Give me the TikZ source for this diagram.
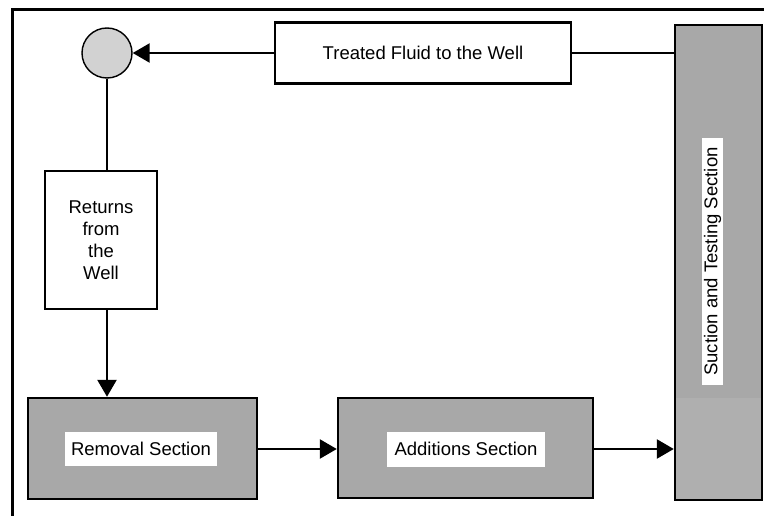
\documentclass[tikz,border=0pt]{standalone}
\usepackage{fontspec}
\setmainfont{Liberation Sans}
\usetikzlibrary{arrows.meta}
\definecolor{secgray}{HTML}{A8A8A8}
\definecolor{seclight}{HTML}{AFAFAF}
\definecolor{circgray}{HTML}{D2D2D2}
\tikzset{
  box/.style={draw=black, line width=2.4pt, fill=white, inner sep=0pt, align=center,
    font=\fontsize{18.5}{22}\selectfont},
  secbox/.style={draw=black, line width=2.4pt, fill=secgray, inner sep=0pt},
  lab/.style={fill=white, inner sep=0pt, font=\fontsize{18.5}{22}\selectfont},
  conn/.style={line width=2.4pt},
  arr/.style={conn, -{Triangle[length=17pt,width=19pt]}},
}
\begin{document}
\begin{tikzpicture}[x=1pt,y=-1pt]
\useasboundingbox (0,0) rectangle (764,516);
\draw[line width=3pt] (12,10) rectangle (775,530);
\node[draw=black, line width=1.4pt, fill=circgray, circle, minimum size=50pt, inner sep=0pt] (circ) at (107,53) {};
\node[box, minimum width=296pt, minimum height=61pt] (treated) at (423,53) {Treated Fluid to the Well};
\node[secbox, minimum width=87pt, minimum height=475pt,
  path picture={\fill[seclight] (path picture bounding box.south west) rectangle ([yshift=102pt]path picture bounding box.south east);}] (suction) at (718.5,262.5) {};
\node[lab, rotate=90, minimum width=247pt, minimum height=21pt] (suclab) at (712.5,261.5) {Suction and Testing Section};
\node[box, minimum width=112pt, minimum height=138pt] (returns) at (101,240) {Returns\\from\\the\\Well};
\node[secbox, minimum width=229pt, minimum height=101pt] (removal) at (142.5,448.5) {};
\node[lab, minimum width=152pt, minimum height=34pt] (remlab) at (141,449) {Removal Section};
\node[secbox, minimum width=255pt, minimum height=100pt] (additions) at (465.5,448) {};
\node[lab, minimum width=158pt, minimum height=35pt] (addlab) at (466,449) {Additions Section};
\draw[arr] (treated.west) -- (circ.east);
\draw[conn] (treated.east) -- (suction.west |- treated.east);
\draw[conn] (circ.south) -- (circ.south |- returns.north);
\draw[arr] (circ.south |- returns.south) -- (circ.south |- removal.north);
\draw[arr] (removal.east |- remlab.east) -- (additions.west |- remlab.east);
\draw[arr] (additions.east |- addlab.east) -- (suction.west |- addlab.east);
\end{tikzpicture}
\end{document}
